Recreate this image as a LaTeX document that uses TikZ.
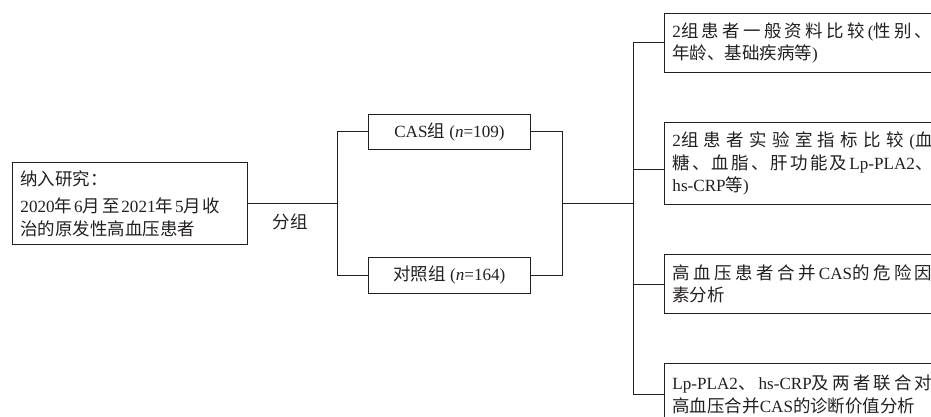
\documentclass[tikz,border=0pt]{standalone}
\usepackage{fontspec}
\setmainfont{Liberation Serif}[Scale=0.95]
\newfontfamily\cjk{Noto Sans CJK SC}[Scale=0.97]
\makeatletter
\newcommand\mx[1]{\mx@aux#1\relax}
\def\mx@aux#1{\ifx#1\relax\else\mx@char{#1}\expandafter\mx@aux\fi}
\def\mx@char#1{\ifnum`#1>"2FFF\relax{\cjk #1}\hskip0pt plus 1fil\relax\else #1\fi}
\makeatother
\newcommand\jl[2]{\makebox[#1][s]{\mx{#2}\unskip}}
\newcommand\nl[1]{\mbox{\mx{#1}}}
\definecolor{ink}{HTML}{231F20}
\tikzset{
  box/.style={draw=ink, line width=0.9pt, anchor=north west, inner xsep=8pt, inner ysep=0pt,
    align=left, text=ink, font=\fontsize{18}{22.5}\selectfont},
  grp/.style={draw=ink, line width=0.9pt, anchor=north west, inner sep=0pt,
    minimum width=162pt, text=ink, font=\fontsize{18}{22.5}\selectfont},
  link/.style={draw=ink, line width=0.9pt}
}
\begin{document}
\begin{tikzpicture}[x=1pt,y=-1pt]
\useasboundingbox (0,0) rectangle (931,417);
\clip (0,0) rectangle (931,417);
% left box
\node[box, text width=219pt, minimum height=82pt] (L) at (12,162)
  {\nl{纳入研究：}\\[5pt]\jl{200pt}{2020年6月至2021年5月收}\\\nl{治的原发性高血压患者}};
\node[text=ink, font=\fontsize{18}{22.5}\selectfont, inner sep=0pt] (fz) at (290,222) {\mx{分组}};
% groups
\node[grp, minimum height=35pt] (cas) at (368,114) {CAS{\cjk 组} (\textit{n}=109)};
\node[grp, minimum height=36pt] (ctl) at (368,257) {{\cjk 对照组} (\textit{n}=164)};
% right boxes
\node[box, text width=262pt, minimum height=59pt] (b1) at (664,13)
  {\jl{260pt}{2组患者一般资料比较(性别、}\\\nl{年龄、基础疾病等)}};
\node[box, text width=262pt, minimum height=82pt] (b2) at (664,122)
  {\jl{260pt}{2组患者实验室指标比较(血}\\\jl{260pt}{糖、血脂、肝功能及Lp-PLA2、}\\\nl{hs-CRP等)}};
\node[box, text width=262pt, minimum height=59pt] (b3) at (664,254)
  {\jl{260pt}{高血压患者合并CAS的危险因}\\\nl{素分析}};
\node[box, text width=262pt, minimum height=62pt] (b4) at (664,363)
  {\jl{260pt}{Lp-PLA2、hs-CRP及两者联合对}\\\nl{高血压合并CAS的诊断价值分析}};
% connectors
\draw[link] (L.east) -- ++(90,0) coordinate (jl);
\draw[link] (cas.west) -- ++(-31,0) |- (ctl.west);
\draw[link] (cas.east) -- ++(32,0) coordinate (cr) |- (ctl.east);
\coordinate (jr) at (cr |- L.east);
\draw[link] (b1.west) -- ++(-31,0) coordinate (bus) |- (b4.west);
\draw[link] (jr) -- (jr -| bus);
\draw[link] ([yshift=-6pt]b2.west) -- ([yshift=-6pt]b2.west -| bus);
\draw[link] (b3.west) -- (b3.west -| bus);
\end{tikzpicture}
\end{document}
